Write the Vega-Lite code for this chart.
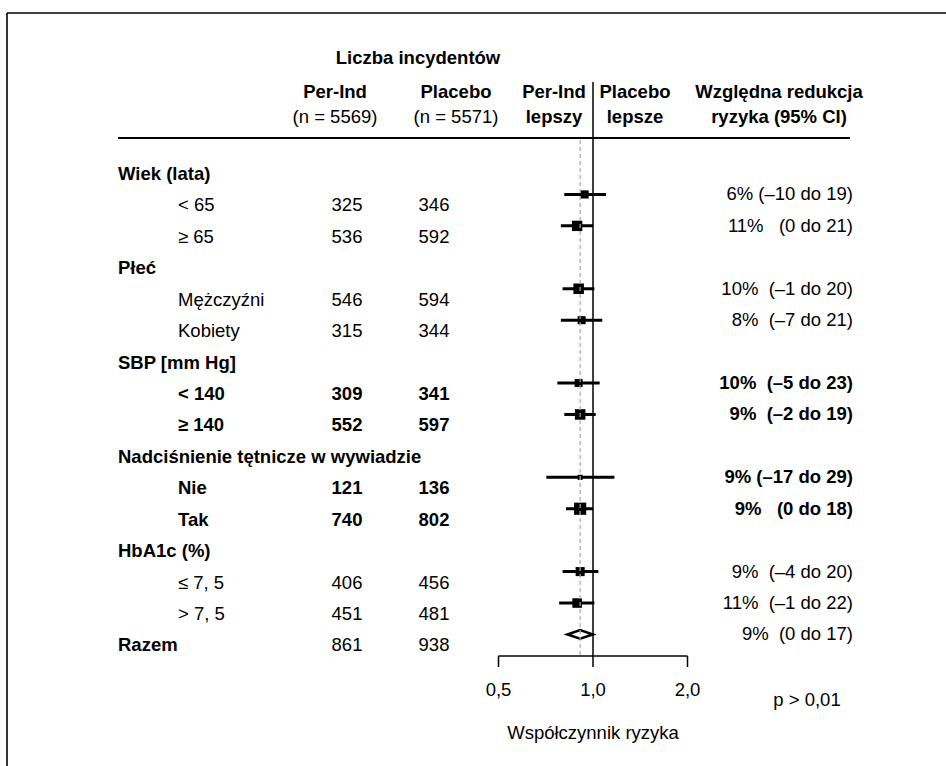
{
  "$schema": "https://vega.github.io/schema/vega-lite/v6.json",
  "width": 939,
  "height": 753,
  "autosize": {"type": "none"},
  "padding": {"left": 7, "top": 13, "right": 0, "bottom": 0},
  "background": "white",
  "view": {"stroke": "transparent", "strokeWidth": 0, "fill": null},
  "config": {
    "view": {"stroke": "transparent", "strokeWidth": 0},
    "text": {"font": "Liberation Sans", "fontSize": 18.5, "fill": "black", "baseline": "middle"}
  },
  "datasets": {
    "rows": [
      {"label": "Wiek (lata)", "kind": "group"},
      {"label": "< 65", "kind": "item", "emph": false, "perind": 325, "placebo": 346, "hr": 0.94, "lo": 0.81, "hi": 1.10, "rrr": "6% (–10 do 19)"},
      {"label": "≥ 65", "kind": "item", "emph": false, "perind": 536, "placebo": 592, "hr": 0.89, "lo": 0.79, "hi": 1.00, "rrr": "11%\u00a0\u00a0 (0 do 21)"},
      {"label": "Płeć", "kind": "group"},
      {"label": "Mężczyźni", "kind": "item", "emph": false, "perind": 546, "placebo": 594, "hr": 0.90, "lo": 0.80, "hi": 1.01, "rrr": "10%\u00a0 (–1 do 20)"},
      {"label": "Kobiety", "kind": "item", "emph": false, "perind": 315, "placebo": 344, "hr": 0.92, "lo": 0.79, "hi": 1.07, "rrr": "8%\u00a0 (–7 do 21)"},
      {"label": "SBP [mm Hg]", "kind": "group"},
      {"label": "< 140", "kind": "item", "emph": true, "perind": 309, "placebo": 341, "hr": 0.90, "lo": 0.77, "hi": 1.05, "rrr": "10%\u00a0 (–5 do 23)"},
      {"label": "≥ 140", "kind": "item", "emph": true, "perind": 552, "placebo": 597, "hr": 0.91, "lo": 0.81, "hi": 1.02, "rrr": "9%\u00a0 (–2 do 19)"},
      {"label": "Nadciśnienie tętnicze w wywiadzie", "kind": "group"},
      {"label": "Nie", "kind": "item", "emph": true, "perind": 121, "placebo": 136, "hr": 0.91, "lo": 0.71, "hi": 1.17, "rrr": "9% (–17 do 29)"},
      {"label": "Tak", "kind": "item", "emph": true, "perind": 740, "placebo": 802, "hr": 0.91, "lo": 0.82, "hi": 1.00, "rrr": "9%\u00a0\u00a0 (0 do 18)"},
      {"label": "HbA1c (%)", "kind": "group"},
      {"label": "≤ 7, 5", "kind": "item", "emph": false, "perind": 406, "placebo": 456, "hr": 0.91, "lo": 0.80, "hi": 1.04, "rrr": "9%\u00a0 (–4 do 20)"},
      {"label": "> 7, 5", "kind": "item", "emph": false, "perind": 451, "placebo": 481, "hr": 0.89, "lo": 0.78, "hi": 1.01, "rrr": "11%\u00a0 (–1 do 22)"},
      {"label": "Razem", "kind": "total", "emph": false, "perind": 861, "placebo": 938, "hr": 0.91, "lo": 0.83, "hi": 1.00, "rrr": "9%\u00a0 (0 do 17)"}
    ],
    "ticks": [
      {"hr": 0.5, "label": "0,5"},
      {"hr": 1.0, "label": "1,0"},
      {"hr": 2.0, "label": "2,0"}
    ]
  },
  "resolve": {"scale": {"x": "independent"}},
  "layer": [
    {
      "data": {"name": "rows"},
      "transform": [{"window": [{"op": "row_number", "as": "row"}]}],
      "layer": [
        {
          "data": {"values": [{}]},
          "mark": {"type": "rule", "color": "black", "strokeWidth": 1.6},
          "encoding": {
            "x": {"datum": 0, "type": "quantitative", "scale": {"domain": [0, 100], "nice": false, "zero": false}, "axis": null},
            "y": {"datum": -4.1225, "type": "quantitative", "scale": {"domain": [-4.1225, 19.835], "reverse": true, "nice": false, "zero": false}, "axis": null},
            "y2": {"datum": 19.835}
          }
        },
        {
          "data": {"values": [{}]},
          "mark": {"type": "rule", "color": "black", "strokeWidth": 1.6},
          "encoding": {
            "x": {"datum": 0, "type": "quantitative", "axis": null},
            "x2": {"datum": 100},
            "y": {"datum": -4.1225, "type": "quantitative", "axis": null}
          }
        },
        {
          "transform": [{"filter": "datum.kind != 'item'"}],
          "mark": {"type": "text", "align": "left", "fontWeight": "bold"},
          "encoding": {
            "x": {"datum": 11.821, "type": "quantitative", "axis": null},
            "y": {"field": "row", "type": "quantitative", "axis": null},
            "text": {"field": "label"}
          }
        },
        {
          "transform": [{"filter": "datum.kind == 'item' && !datum.emph"}],
          "mark": {"type": "text", "align": "left", "fontWeight": "normal"},
          "encoding": {
            "x": {"datum": 18.211, "type": "quantitative", "axis": null},
            "y": {"field": "row", "type": "quantitative", "axis": null},
            "text": {"field": "label"}
          }
        },
        {
          "transform": [{"filter": "datum.kind == 'item' && datum.emph"}],
          "mark": {"type": "text", "align": "left", "fontWeight": "bold"},
          "encoding": {
            "x": {"datum": 18.211, "type": "quantitative", "axis": null},
            "y": {"field": "row", "type": "quantitative", "axis": null},
            "text": {"field": "label"}
          }
        },
        {
          "transform": [{"filter": "isValid(datum.perind) && !datum.emph"}],
          "mark": {"type": "text", "align": "center", "fontWeight": "normal"},
          "encoding": {
            "x": {"datum": 36.209, "type": "quantitative", "axis": null},
            "y": {"field": "row", "type": "quantitative", "axis": null},
            "text": {"field": "perind"}
          }
        },
        {
          "transform": [{"filter": "isValid(datum.perind) && datum.emph"}],
          "mark": {"type": "text", "align": "center", "fontWeight": "bold"},
          "encoding": {
            "x": {"datum": 36.209, "type": "quantitative", "axis": null},
            "y": {"field": "row", "type": "quantitative", "axis": null},
            "text": {"field": "perind"}
          }
        },
        {
          "transform": [{"filter": "isValid(datum.placebo) && !datum.emph"}],
          "mark": {"type": "text", "align": "center", "fontWeight": "normal"},
          "encoding": {
            "x": {"datum": 45.474, "type": "quantitative", "axis": null},
            "y": {"field": "row", "type": "quantitative", "axis": null},
            "text": {"field": "placebo"}
          }
        },
        {
          "transform": [{"filter": "isValid(datum.placebo) && datum.emph"}],
          "mark": {"type": "text", "align": "center", "fontWeight": "bold"},
          "encoding": {
            "x": {"datum": 45.474, "type": "quantitative", "axis": null},
            "y": {"field": "row", "type": "quantitative", "axis": null},
            "text": {"field": "placebo"}
          }
        },
        {
          "transform": [{"filter": "isValid(datum.rrr) && !datum.emph"}],
          "mark": {"type": "text", "align": "right", "fontWeight": "normal", "dy": -11},
          "encoding": {
            "x": {"datum": 90.096, "type": "quantitative", "axis": null},
            "y": {"field": "row", "type": "quantitative", "axis": null},
            "text": {"field": "rrr"}
          }
        },
        {
          "transform": [{"filter": "isValid(datum.rrr) && datum.emph"}],
          "mark": {"type": "text", "align": "right", "fontWeight": "bold", "dy": -11},
          "encoding": {
            "x": {"datum": 90.096, "type": "quantitative", "axis": null},
            "y": {"field": "row", "type": "quantitative", "axis": null},
            "text": {"field": "rrr"}
          }
        },
        {
          "data": {"values": [{}]},
          "mark": {"type": "text", "text": "Liczba incydentów", "align": "center", "fontWeight": "bold"},
          "encoding": {
            "x": {"datum": 43.77, "type": "quantitative", "axis": null},
            "y": {"datum": -2.691, "type": "quantitative", "axis": null}
          }
        },
        {
          "data": {"values": [{}]},
          "mark": {"type": "text", "text": "Per-Ind", "align": "center", "fontWeight": "bold"},
          "encoding": {
            "x": {"datum": 34.931, "type": "quantitative", "axis": null},
            "y": {"datum": -1.609, "type": "quantitative", "axis": null}
          }
        },
        {
          "data": {"values": [{}]},
          "mark": {"type": "text", "text": "(n = 5569)", "align": "center", "fontWeight": "normal"},
          "encoding": {
            "x": {"datum": 34.931, "type": "quantitative", "axis": null},
            "y": {"datum": -0.814, "type": "quantitative", "axis": null}
          }
        },
        {
          "data": {"values": [{}]},
          "mark": {"type": "text", "text": "Placebo", "align": "center", "fontWeight": "bold"},
          "encoding": {
            "x": {"datum": 47.817, "type": "quantitative", "axis": null},
            "y": {"datum": -1.609, "type": "quantitative", "axis": null}
          }
        },
        {
          "data": {"values": [{}]},
          "mark": {"type": "text", "text": "(n = 5571)", "align": "center", "fontWeight": "normal"},
          "encoding": {
            "x": {"datum": 47.817, "type": "quantitative", "axis": null},
            "y": {"datum": -0.814, "type": "quantitative", "axis": null}
          }
        },
        {
          "data": {"values": [{}]},
          "mark": {"type": "text", "text": "Per-Ind", "align": "center", "fontWeight": "bold"},
          "encoding": {
            "x": {"datum": 58.253, "type": "quantitative", "axis": null},
            "y": {"datum": -1.609, "type": "quantitative", "axis": null}
          }
        },
        {
          "data": {"values": [{}]},
          "mark": {"type": "text", "text": "lepszy", "align": "center", "fontWeight": "bold"},
          "encoding": {
            "x": {"datum": 58.253, "type": "quantitative", "axis": null},
            "y": {"datum": -0.814, "type": "quantitative", "axis": null}
          }
        },
        {
          "data": {"values": [{}]},
          "mark": {"type": "text", "text": "Placebo", "align": "center", "fontWeight": "bold"},
          "encoding": {
            "x": {"datum": 66.88, "type": "quantitative", "axis": null},
            "y": {"datum": -1.609, "type": "quantitative", "axis": null}
          }
        },
        {
          "data": {"values": [{}]},
          "mark": {"type": "text", "text": "lepsze", "align": "center", "fontWeight": "bold"},
          "encoding": {
            "x": {"datum": 66.88, "type": "quantitative", "axis": null},
            "y": {"datum": -0.814, "type": "quantitative", "axis": null}
          }
        },
        {
          "data": {"values": [{}]},
          "mark": {"type": "text", "text": "Względna redukcja", "align": "center", "fontWeight": "bold"},
          "encoding": {
            "x": {"datum": 82.215, "type": "quantitative", "axis": null},
            "y": {"datum": -1.609, "type": "quantitative", "axis": null}
          }
        },
        {
          "data": {"values": [{}]},
          "mark": {"type": "text", "text": "ryzyka (95% CI)", "align": "center", "fontWeight": "bold"},
          "encoding": {
            "x": {"datum": 82.215, "type": "quantitative", "axis": null},
            "y": {"datum": -0.814, "type": "quantitative", "axis": null}
          }
        },
        {
          "data": {"values": [{}]},
          "mark": {"type": "text", "text": "p > 0,01", "align": "center", "fontWeight": "normal"},
          "encoding": {
            "x": {"datum": 85.197, "type": "quantitative", "axis": null},
            "y": {"datum": 17.736, "type": "quantitative", "axis": null}
          }
        },
        {
          "data": {"values": [{}]},
          "mark": {"type": "rule", "color": "black", "strokeWidth": 2},
          "encoding": {
            "x": {"datum": 11.821, "type": "quantitative", "axis": null},
            "x2": {"datum": 89.776},
            "y": {"datum": -0.145, "type": "quantitative", "axis": null}
          }
        }
      ]
    },
    {
      "data": {"name": "rows"},
      "transform": [{"window": [{"op": "row_number", "as": "row"}]}],
      "layer": [
        {
          "data": {"values": [{}]},
          "mark": {"type": "rule", "color": "black", "strokeWidth": 1.5},
          "encoding": {
            "x": {"datum": 1, "type": "quantitative", "scale": {"type": "log", "domain": [0.013592, 13.318], "nice": false}, "axis": null},
            "y": {"datum": -1.927, "type": "quantitative", "axis": null},
            "y2": {"datum": 16.336}
          }
        },
        {
          "transform": [{"filter": "datum.kind == 'item'"}],
          "mark": {"type": "rule", "color": "black", "strokeWidth": 3, "yOffset": -11},
          "encoding": {
            "x": {"field": "lo", "type": "quantitative", "axis": null},
            "x2": {"field": "hi"},
            "y": {"field": "row", "type": "quantitative", "axis": null}
          }
        },
        {
          "transform": [{"filter": "datum.kind == 'item'"}],
          "mark": {"type": "square", "color": "black", "opacity": 1, "yOffset": -11},
          "encoding": {
            "x": {"field": "hr", "type": "quantitative", "axis": null},
            "y": {"field": "row", "type": "quantitative", "axis": null},
            "size": {"field": "perind", "type": "quantitative", "scale": {"domain": [100, 800], "range": [22, 160], "zero": false}, "legend": null}
          }
        },
        {
          "transform": [{"filter": "datum.kind == 'total'"}],
          "mark": {"type": "point", "shape": "M-1,0L0,-0.34L1,0L0,0.34Z", "size": 650, "filled": true, "fill": "white", "stroke": "black", "strokeWidth": 2.5, "opacity": 1, "yOffset": -11},
          "encoding": {
            "x": {"field": "hr", "type": "quantitative", "axis": null},
            "y": {"field": "row", "type": "quantitative", "axis": null}
          }
        },
        {
          "transform": [{"filter": "datum.kind == 'total'"}],
          "mark": {"type": "rule", "color": "#a8a8a8", "strokeWidth": 1.2, "strokeDash": [4, 3]},
          "encoding": {
            "x": {"field": "hr", "type": "quantitative", "axis": null},
            "y": {"datum": -0.08, "type": "quantitative", "axis": null},
            "y2": {"datum": 16.336}
          }
        },
        {
          "data": {"values": [{}]},
          "mark": {"type": "rule", "color": "black", "strokeWidth": 1.5},
          "encoding": {
            "x": {"datum": 0.5, "type": "quantitative", "axis": null},
            "x2": {"datum": 2},
            "y": {"datum": 16.336, "type": "quantitative", "axis": null}
          }
        },
        {
          "data": {"name": "ticks"},
          "mark": {"type": "rule", "color": "black", "strokeWidth": 1.5},
          "encoding": {
            "x": {"field": "hr", "type": "quantitative", "axis": null},
            "y": {"datum": 16.336, "type": "quantitative", "axis": null},
            "y2": {"datum": 16.686}
          }
        },
        {
          "data": {"name": "ticks"},
          "mark": {"type": "text", "align": "center"},
          "encoding": {
            "x": {"field": "hr", "type": "quantitative", "axis": null},
            "y": {"datum": 17.417, "type": "quantitative", "axis": null},
            "text": {"field": "label"}
          }
        },
        {
          "data": {"values": [{}]},
          "mark": {"type": "text", "text": "Współczynnik ryzyka", "align": "center"},
          "encoding": {
            "x": {"datum": 1, "type": "quantitative", "axis": null},
            "y": {"datum": 18.786, "type": "quantitative", "axis": null}
          }
        }
      ]
    }
  ]
}
